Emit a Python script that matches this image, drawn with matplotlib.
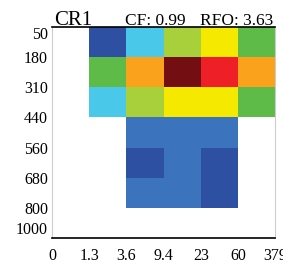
import numpy as np
import matplotlib
matplotlib.use("Agg")
import matplotlib.pyplot as plt
from matplotlib.colors import ListedColormap, BoundaryNorm

#=========================================DATA========================================
tau_labels = ['0', '1.3', '3.6', '9.4', '23', '60', '379']
pres_labels = ['50', '180', '310', '440', '560', '680', '800', '1000']
regime = 'CR1'
cf = 'CF: 0.99'
rfo = 'RFO: 3.63'

# joint histogram (%), rows = pressure bins (top to bottom), cols = tau bins
hist = np.array([
    [0.0, 0.6, 1.5, 3.5, 5.0, 2.5],
    [0.0, 2.5, 7.0, 12.0, 9.0, 7.0],
    [0.0, 1.5, 3.5, 5.0, 5.0, 2.5],
    [0.0, 0.0, 0.3, 0.3, 0.3, 0.0],
    [0.0, 0.0, 0.6, 0.3, 0.6, 0.0],
    [0.0, 0.0, 0.3, 0.3, 0.6, 0.0],
    [0.0, 0.0, 0.0, 0.0, 0.0, 0.0],
])

levels = [0, 0.2, 0.5, 1, 2, 3, 4, 6, 8, 10, 15]
colors = ['white', '#3b74bc', '#2d50a2', '#49c8e9', '#5fbb47', '#a8d03a',
          '#f6e900', '#faa21c', '#ee1f26', '#730f12']

#=========================================PLOT========================================
plt.rcParams['font.family'] = ['Liberation Serif', 'DejaVu Serif']

fig = plt.figure(figsize=(2.83, 2.65), dpi=100)
ax = fig.add_axes([0.184, 0.102, 0.788, 0.796])

cmap = ListedColormap(colors)
norm = BoundaryNorm(levels, cmap.N)
ax.pcolormesh(np.arange(len(tau_labels)), np.arange(len(pres_labels)), hist,
              cmap=cmap, norm=norm)
ax.set_xlim(0, len(tau_labels) - 1)
ax.set_ylim(len(pres_labels) - 1, 0)

ax.set_xticks(np.arange(len(tau_labels)))
ax.set_xticklabels(tau_labels, fontsize=11.5)
ax.set_yticks(np.arange(len(pres_labels)))
ax.set_yticklabels(pres_labels, fontsize=11.5)
ylabs = ax.get_yticklabels()
ylabs[0].set_va('top')
ylabs[-1].set_va('bottom')
ax.tick_params(axis='y', length=0, pad=3)
ax.tick_params(axis='x', length=0, pad=7)

for s in ['left', 'right']:
    ax.spines[s].set_color('#cccccc')
for s in ['top', 'bottom']:
    ax.spines[s].set_color('black')
    ax.spines[s].set_linewidth(1.2)

fig.text(0.19, 0.905, regime, fontsize=15)
fig.text(0.44, 0.905, cf, fontsize=12.5)
fig.text(0.705, 0.905, rfo, fontsize=12.5)

fig.savefig('out.png', dpi=100)
